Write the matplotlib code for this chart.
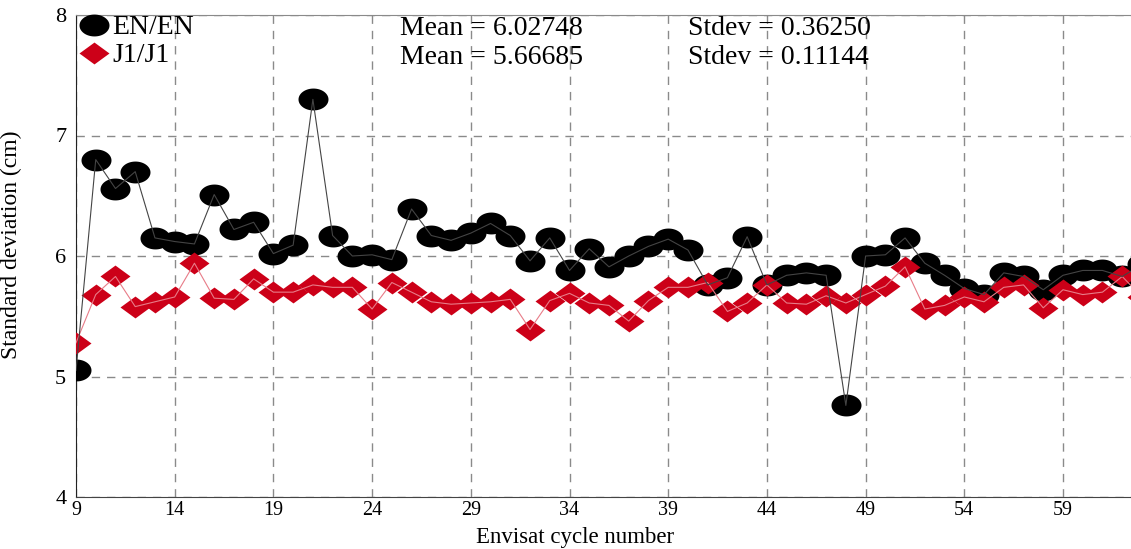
import numpy as np
import matplotlib
matplotlib.use("Agg")
import matplotlib.pyplot as plt
from matplotlib.path import Path
from matplotlib.lines import Line2D

# ---- data ----
cycles = list(range(9, 64))
en_en = [5.05, 6.80, 6.56, 6.70, 6.15, 6.12, 6.10, 6.51, 6.22, 6.28,
         6.02, 6.09, 7.30, 6.17, 6.00, 6.01, 5.97, 6.39, 6.17, 6.13,
         6.19, 6.27, 6.17, 5.96, 6.15, 5.88, 6.06, 5.91, 6.00, 6.08,
         6.14, 6.05, 5.76, 5.82, 6.16, 5.76, 5.84, 5.86, 5.84, 4.76,
         6.00, 6.01, 6.15, 5.94, 5.84, 5.73, 5.68, 5.86, 5.83, 5.72,
         5.84, 5.88, 5.88, 5.83, 5.93]
j1_j1 = [5.28, 5.68, 5.83, 5.58, 5.62, 5.66, 5.94, 5.65, 5.64, 5.81,
         5.70, 5.70, 5.76, 5.74, 5.74, 5.56, 5.78, 5.70, 5.62, 5.60,
         5.61, 5.62, 5.64, 5.39, 5.63, 5.69, 5.61, 5.59, 5.46, 5.63,
         5.74, 5.74, 5.78, 5.54, 5.61, 5.76, 5.61, 5.60, 5.67, 5.61,
         5.68, 5.75, 5.91, 5.56, 5.59, 5.66, 5.62, 5.74, 5.76, 5.57,
         5.72, 5.68, 5.70, 5.83, 5.66]
series_labels = ["EN/EN", "J1/J1"]
stats_text = [("Mean = 6.02748", "Stdev = 0.36250"),
              ("Mean = 5.66685", "Stdev = 0.11144")]
xticks = list(range(9, 64, 5))
yticks = [4, 5, 6, 7, 8]
xlabel = "Envisat cycle number"
ylabel = "Standard deviation (cm)"

# ---- styling ----
plt.rcParams['font.family'] = ['Liberation Serif', 'DejaVu Serif']
RED = '#CC0018'

asp = 0.73
t = np.linspace(0, 2 * np.pi, 60)
ellipse = Path(np.column_stack([np.cos(t), asp * np.sin(t)]), closed=True)
diamond = Path([(0, asp), (1, 0), (0, -asp), (-1, 0), (0, asp)],
               [Path.MOVETO, Path.LINETO, Path.LINETO, Path.LINETO, Path.CLOSEPOLY])
MS = 21.6

fig = plt.figure(figsize=(11.31, 5.49), dpi=100)
ax = fig.add_axes([76 / 1131, 52 / 549, (1161.7 - 76) / 1131, 482 / 549])

ax.plot(cycles, en_en, linestyle='none', marker=ellipse, markersize=MS,
        color='black', markeredgewidth=0, zorder=3)
ax.plot(cycles, j1_j1, linestyle='none', marker=diamond, markersize=MS,
        color=RED, markeredgewidth=0, zorder=4)
ax.plot(cycles, j1_j1, color='#e87c88', lw=0.8, zorder=5)
ax.plot(cycles, en_en, color='#444444', lw=0.8, zorder=6)

ax.set_xlim(9, 64)
ax.set_ylim(4, 8)
ax.set_xticks(xticks)
ax.set_yticks(yticks)
ax.tick_params(length=0)
ax.tick_params(axis='x', pad=3, labelsize=14.5)
ax.tick_params(axis='y', pad=7, labelsize=16)
ax.grid(True, color='#8a8a8a', linestyle=(0, (6, 5)), linewidth=1.0, zorder=0)
ax.set_axisbelow(True)
ax.spines['right'].set_visible(False)
ax.spines['top'].set_color('#8a8a8a')
ax.spines['top'].set_linewidth(0.8)
ax.spines['left'].set_color('#222222')
ax.spines['bottom'].set_color('#444444')

ax.set_xlabel(xlabel, fontsize=16.5, va='baseline')
ax.set_ylabel(ylabel, fontsize=17)
ax.xaxis.set_label_coords(0.4596, (497 - 543.5) / 482)
ax.yaxis.set_label_coords(-0.0497, 0.523)

handles = [Line2D([], [], linestyle='none', marker=ellipse, markersize=MS,
                  color='black', markeredgewidth=0),
           Line2D([], [], linestyle='none', marker=diamond, markersize=MS,
                  color=RED, markeredgewidth=0)]
leg = ax.legend(handles, series_labels, loc='upper left',
                bbox_to_anchor=(0.0, 1.006), frameon=False, fontsize=20,
                borderaxespad=0, borderpad=0.1, handlelength=1.08,
                handletextpad=0.12, labelspacing=0.09)
leg.set_zorder(10)

row_y = [0.973, 0.912]
for (m, s), yy in zip(stats_text, row_y):
    ax.text(0.2984, yy, m, transform=ax.transAxes, fontsize=20,
            ha='left', va='center', zorder=10)
    ax.text(0.5637, yy, s, transform=ax.transAxes, fontsize=20,
            ha='left', va='center', zorder=10)

fig.savefig('out.png', dpi=100)
